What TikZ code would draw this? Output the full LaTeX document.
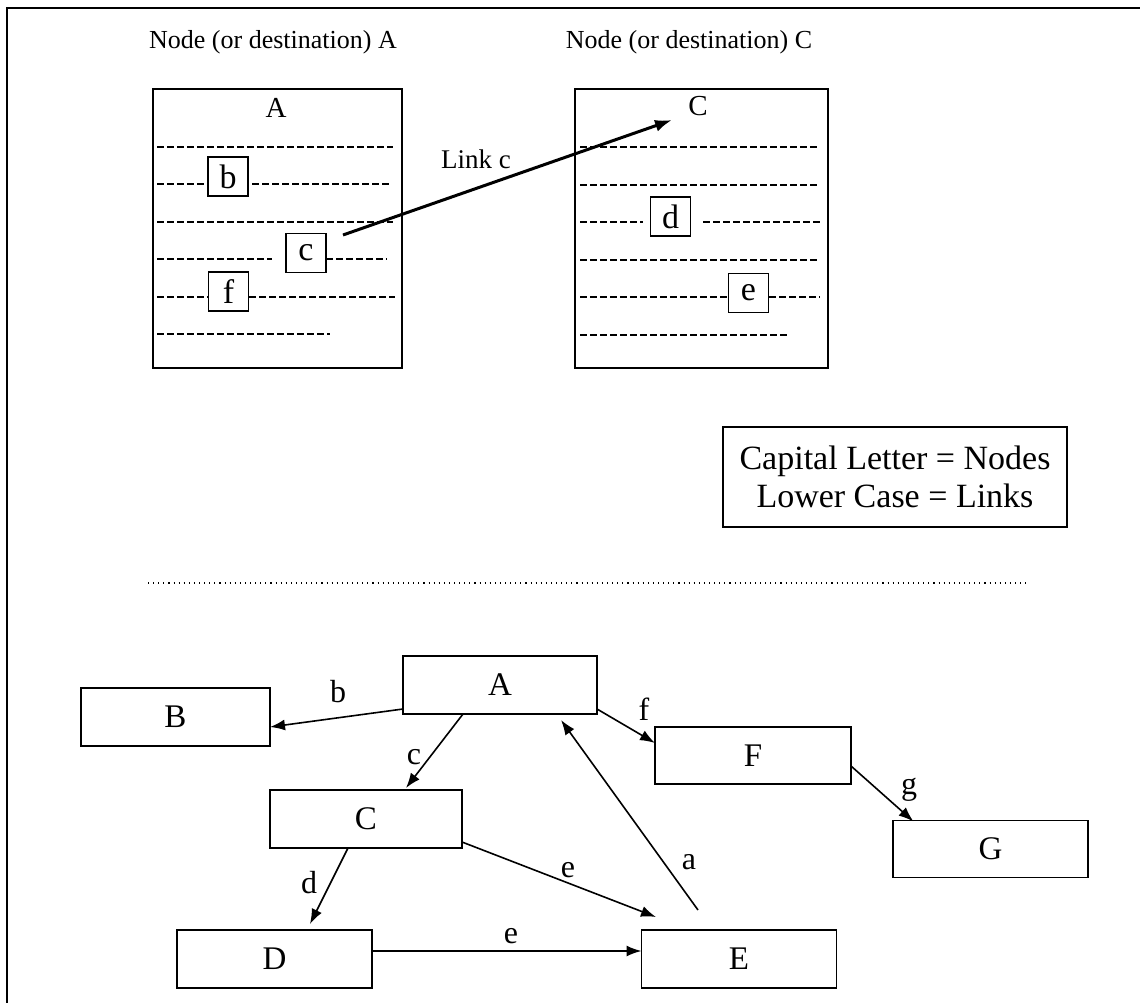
\documentclass[tikz,border=0pt]{standalone}
\usepackage{fontspec}
\setmainfont{Liberation Serif}
\usetikzlibrary{arrows.meta,calc}

\begin{document}
\begin{tikzpicture}[x=1pt,y=-1pt,
  rule/.style={line width=1.6pt},
  pagebox/.style={draw, line width=1.4pt, inner sep=0pt, outer sep=0pt},
  linkbox/.style={draw, line width=1.4pt, inner sep=0pt, outer sep=0pt,
    minimum width=40pt, minimum height=39pt, font=\fontsize{34}{36}\selectfont},
  dashline/.style={line width=1.5pt, dash pattern=on 7pt off 3pt},
  heading/.style={font=\fontsize{26}{28}\selectfont},
  pagehead/.style={font=\fontsize{29}{30}\selectfont},
  gnode/.style={draw, line width=1.5pt, inner sep=0pt, outer sep=0pt,
    minimum width=195pt, minimum height=58pt, font=\fontsize{33}{36}\selectfont},
  glabel/.style={font=\fontsize{32}{34}\selectfont, inner sep=0pt},
  edge/.style={line width=1.6pt, -{Latex[length=15pt,width=11pt]}},
]
% page area and frame (top and left rules)
\useasboundingbox (0,0) rectangle (1140,1003);
\draw[rule] (7,1003) -- (7,8) -- (1140,8);

% ---------- upper part: two pages with their links ----------
\node[heading] (tA) at (273,42) {Node (or destination) A};
\node[heading] (tC) at (689,42) {Node (or destination) C};

\node[pagebox, minimum width=249pt, minimum height=279pt] (pA) at (277.5,228.5) {};
\node[pagebox, minimum width=253pt, minimum height=279pt] (pC) at (701.5,228.5) {};
\node[pagehead] (hA) at (276,108) {A};
\node[pagehead] (hC) at (698,106) {C};

% link boxes inside the pages
\node[linkbox] (lb) at (228,176.5) {b};
\node[linkbox] (lc) at (306,253) {c};
\node[linkbox] (lf) at (228.5,291.5) {f};
\node[linkbox] (ld) at (670.5,216.5) {d};
\node[linkbox] (le) at (748.5,293) {e};

% text lines of page A
\draw[dashline] (157,147) -- (393,147);
\draw[dashline] (157,184) -- (208,184);
\draw[dashline] (252,184) -- (390,184);
\draw[dashline] (157,222) -- (393,222);
\draw[dashline] (157,259) -- (272,259);
\draw[dashline] (326,259) -- (387,259);
\draw[dashline] (157,297) -- (208,297);
\draw[dashline] (249,297) -- (395,297);
\draw[dashline] (157,334) -- (330,334);

% text lines of page C
\draw[dashline] (580,147) -- (818,147);
\draw[dashline] (580,185) -- (818,185);
\draw[dashline] (580,222) -- (643,222);
\draw[dashline] (703,222) -- (820,222);
\draw[dashline] (580,260) -- (818,260);
\draw[dashline] (580,297) -- (728,297);
\draw[dashline] (769,297) -- (820,297);
\draw[dashline] (580,335) -- (787,335);

% link c from page A to page C
\coordinate (linkstart) at (343,235);
\coordinate (linkend) at (672,120);
\draw[line width=3pt, -{Latex[length=17pt,width=12pt]}] (linkstart) -- (linkend);
\node[font=\fontsize{27}{28}\selectfont] (linklabel) at (476,159) {Link c};

% legend
\node[pagebox, minimum width=344pt, minimum height=100pt, align=center,
  font=\fontsize{34}{38}\selectfont] (legend) at (895,477)
  {Capital Letter = Nodes\\ Lower Case = Links};

% separator
\draw[line width=1.1pt, dash pattern=on 1.1pt off 4pt] (148,583) -- (1028,583);

% ---------- lower part: the node graph ----------
\node[gnode, minimum width=194pt] (A) at (500,685) {A};
\node[gnode, minimum width=189pt] (B) at (175.5,717) {B};
\node[gnode, minimum width=192pt] (C) at (366,819) {C};
\node[gnode] (D) at (274.5,959) {D};
\node[gnode] (E) at (739,959) {E};
\node[gnode, minimum width=196pt, minimum height=57pt] (F) at (753,755.5) {F};
\node[gnode, minimum height=57pt] (G) at (990.5,849) {G};

\draw[edge] ([yshift=-24pt]A.west) -- ([yshift=-10pt]B.east);
\draw[edge] ([xshift=-37pt]A.south) -- ([xshift=40pt,yshift=2pt]C.north);
\draw[edge] ([xshift=-18pt]C.south) -- ([xshift=35.5pt,yshift=6pt]D.north);
\draw[edge] ([yshift=-23pt]C.east) -- ([xshift=-83pt,yshift=13pt]E.north);
\draw[edge] ([yshift=8pt]D.east) -- ([yshift=8pt]E.west);
\draw[edge] ([xshift=-41pt,yshift=20pt]E.north) -- ([xshift=61pt,yshift=-6pt]A.south);
\draw[edge] ([yshift=-24pt]A.east) -- ([yshift=12.5pt]F.west);
\draw[edge] ([yshift=-10.5pt]F.east) -- ([xshift=-77pt,yshift=-1pt]G.north);

\node[glabel] (lbb) at (338,692) {b};
\node[glabel] (lbc) at (414,757) {c};
\node[glabel] (lbd) at (309,883) {d};
\node[glabel] (lbe1) at (568,870) {e};
\node[glabel] (lbe2) at (511,936) {e};
\node[glabel] (lba) at (689,862) {a};
\node[glabel] (lbf) at (644,709) {f};
\node[glabel] (lbg) at (909,790) {g};
\end{tikzpicture}
\end{document}
